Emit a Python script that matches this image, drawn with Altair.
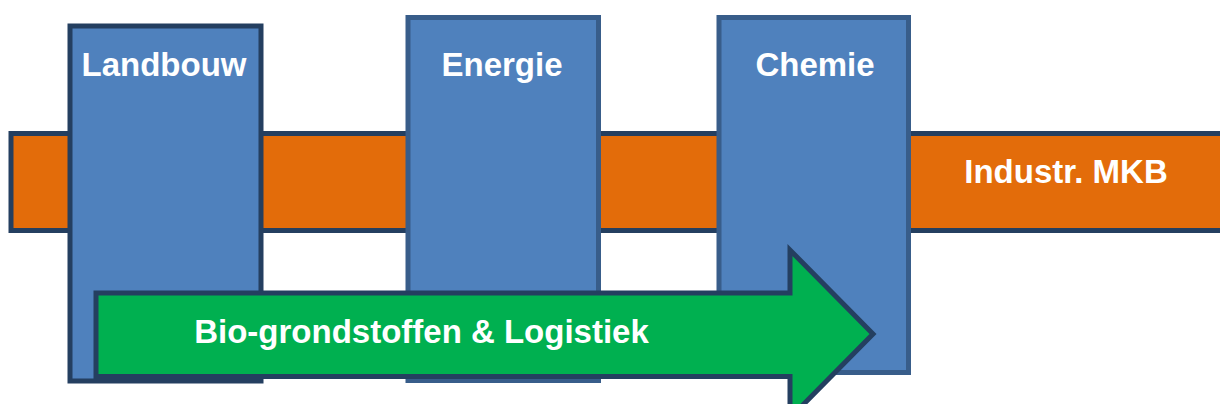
import altair as alt
import pandas as pd

# Horizontal band (Industr. MKB)
band_x1 = [11]
band_x2 = [1240]
band_y1 = [133.5]
band_y2 = [230.5]

# Vertical sector boxes
box_names = ["Landbouw", "Energie", "Chemie"]
box_x1 = [70, 408, 719]
box_x2 = [261, 598.5, 908.5]
box_y1 = [26, 17.5, 17.5]
box_y2 = [381, 380.5, 372.5]
box_border = ["#243F60", "#385D8A", "#385D8A"]

# Arrow outline polygon (closed)
arrow_x = [96, 790, 790, 873, 790, 790, 96, 96]
arrow_y = [293, 293, 250, 334, 418, 376.5, 376.5, 293]
arrow_order = [0, 1, 2, 3, 4, 5, 6, 7]

# Labels
label_text = ["Landbouw", "Energie", "Chemie", "Industr. MKB", "Bio-grondstoffen & Logistiek"]
label_x = [164, 502, 815, 1066, 421.5]
label_y = [76, 76, 76, 182.5, 343]

xs = alt.Scale(domain=[8, 1220], nice=False, zero=False)
ys = alt.Scale(domain=[8, 404], nice=False, zero=False, reverse=True)

band_df = pd.DataFrame({"x1": band_x1, "x2": band_x2, "y1": band_y1, "y2": band_y2})
box_df = pd.DataFrame({"name": box_names, "x1": box_x1, "x2": box_x2, "y1": box_y1,
                       "y2": box_y2, "border": box_border})
arrow_df = pd.DataFrame({"x": arrow_x, "y": arrow_y, "o": arrow_order})
label_df = pd.DataFrame({"t": label_text, "x": label_x, "y": label_y})

band = alt.Chart(band_df).mark_rect(
    fill="#E36C0A", stroke="#243F60", strokeWidth=5, clip=True
).encode(
    x=alt.X("x1:Q", scale=xs, axis=None), x2="x2:Q",
    y=alt.Y("y1:Q", scale=ys, axis=None), y2="y2:Q",
)

boxes = alt.Chart(box_df).mark_rect(
    fill="#4F81BD", strokeWidth=5, clip=True
).encode(
    x=alt.X("x1:Q", scale=xs, axis=None), x2="x2:Q",
    y=alt.Y("y1:Q", scale=ys, axis=None), y2="y2:Q",
    stroke=alt.Stroke("border:N", scale=None),
)

arrow = alt.Chart(arrow_df).mark_line(
    fill="#00B050", stroke="#243F60", strokeWidth=5, opacity=1,
    interpolate="linear-closed", clip=True, strokeJoin="miter"
).encode(
    x=alt.X("x:Q", scale=xs, axis=None),
    y=alt.Y("y:Q", scale=ys, axis=None),
    order=alt.Order("o:Q"),
)

labels = alt.Chart(label_df).mark_text(
    font="Liberation Sans", fontWeight="bold", fontSize=33, color="white",
    align="center", baseline="alphabetic"
).encode(
    x=alt.X("x:Q", scale=xs, axis=None),
    y=alt.Y("y:Q", scale=ys, axis=None),
    text="t:N",
)

chart = alt.layer(band, boxes, arrow, labels).properties(
    width=1212, height=396, padding=0, autosize="none", background="white"
).configure_view(stroke=None)

chart.save("out.html", embed_options={"renderer": "svg", "actions": False})
